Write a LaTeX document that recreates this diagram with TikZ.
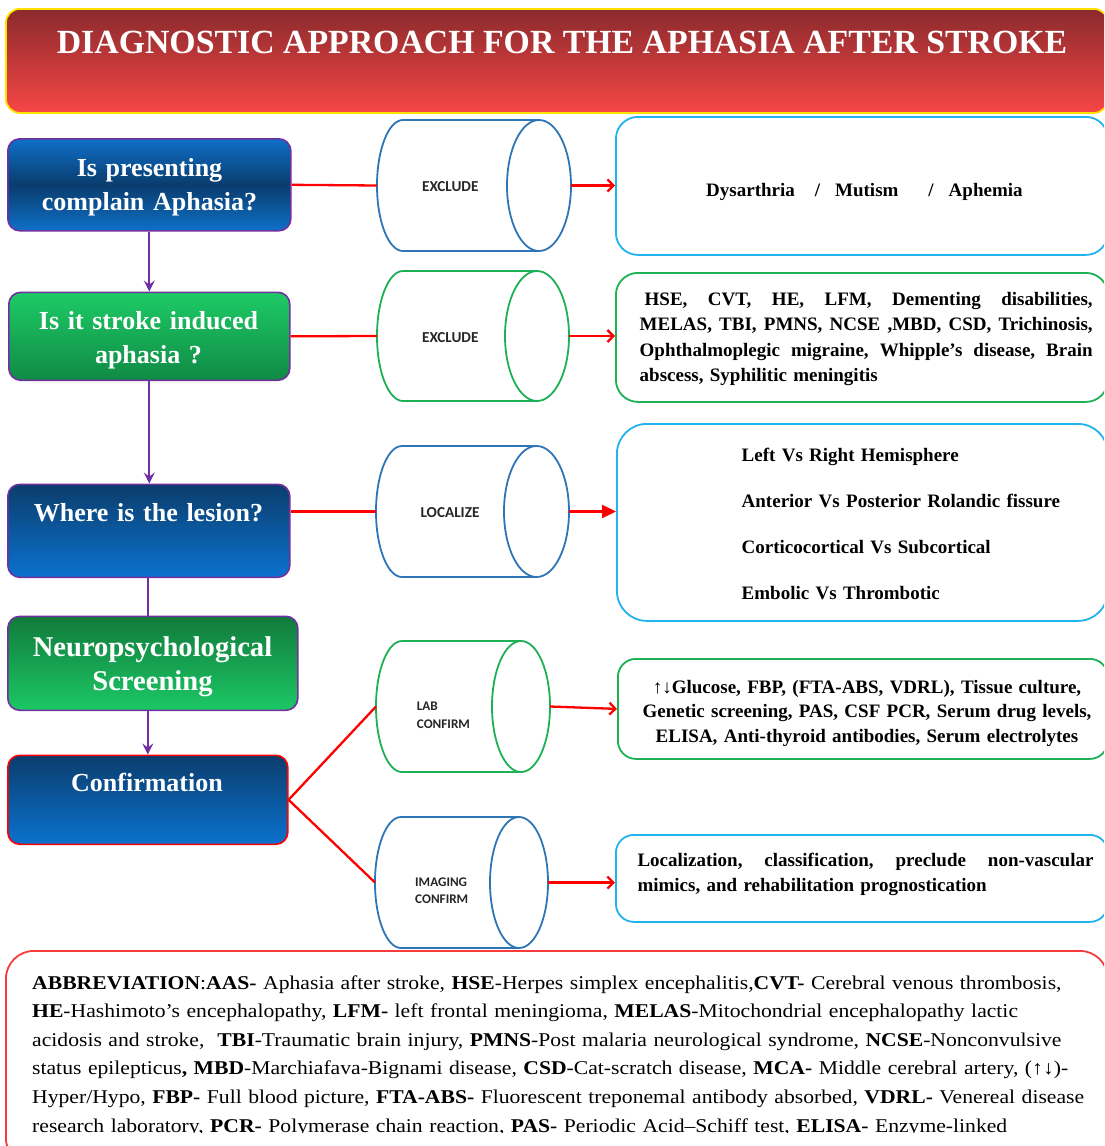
\documentclass[tikz,border=0pt]{standalone}
\usepackage{fontspec}
\setmainfont{Liberation Serif}
\newfontfamily\calib{Carlito}
\newfontfamily\abfont[FakeStretch=1.11]{Liberation Serif}
\usetikzlibrary{arrows.meta}
\definecolor{purp}{HTML}{7030A0}
\definecolor{cylb}{HTML}{2E75B6}
\definecolor{cylg}{HTML}{1DB054}
\definecolor{cyanb}{HTML}{22B2EE}
\definecolor{grnb}{HTML}{1DB054}
\definecolor{abbr}{HTML}{F53B3B}
\definecolor{ttop}{HTML}{8A2A2C}
\definecolor{tbot}{HTML}{F84646}
\definecolor{tbord}{HTML}{FFE100}
\definecolor{blL}{HTML}{0E70C8}
\definecolor{blD}{HTML}{0A3C6E}
\definecolor{blT}{HTML}{0B3D6D}
\definecolor{blB}{HTML}{0B72CE}
\definecolor{gnL}{HTML}{1ECB66}
\definecolor{gnD}{HTML}{0F8A45}
\definecolor{gnT}{HTML}{117A3B}
\definecolor{gnB}{HTML}{1CC865}
\tikzset{
  lbox/.style={draw=purp, line width=1.6pt, rounded corners=12pt, inner sep=0pt, anchor=north west},
  ltext/.style={text=white, font=\bfseries\fontsize{26}{34}\selectfont, inner sep=0pt, align=center, text width=290pt, anchor=base},
  rbox/.style={line width=1.8pt, rounded corners=22pt, inner sep=0pt, anchor=north west},
  rtext/.style={font=\bfseries\fontsize{19}{25.5}\selectfont, inner sep=0pt, text=black},
  cyltext/.style={font=\calib\bfseries\fontsize{15.2}{18}\selectfont, inner sep=0pt, text=black!85},
  cylsmall/.style={font=\calib\bfseries\fontsize{13.2}{17.7}\selectfont, inner sep=0pt, text=black!85, align=left, text width=80pt, anchor=base west},
  redline/.style={draw=red, line width=2.3pt},
  redarrow/.style={redline, -{Straight Barb[length=6pt,width=12pt]}},
  purparrow/.style={draw=purp, line width=2.2pt, -{Stealth[length=11pt,width=11pt,inset=4pt]}},
}
% #1 name, #2 left x, #3 right x, #4 centre y, #5 half height, #6 right ellipse rx, #7 left rx, #8 colour
\newcommand{\mycyl}[8]{%
  \draw[#8, line width=1.8pt] (#3-#6,#4+#5) -- (#2+#7,#4+#5)
     arc[start angle=90, end angle=270, x radius=#7, y radius=#5] -- (#3-#6,#4-#5);
  \draw[#8, line width=1.8pt] (#3-#6,#4) ellipse[x radius=#6, y radius=#5];
  \coordinate (#1w) at (#2,#4);
  \coordinate (#1e) at (#3,#4);
}
\begin{document}
\begin{tikzpicture}[x=1pt,y=1pt]
\useasboundingbox (0,0) rectangle (1104,-1146);
\clip (0,0) rectangle (1104,-1146);

% title
\node[draw=tbord, line width=1.8pt, rounded corners=14pt, top color=ttop, bottom color=tbot,
      minimum width=1102pt, minimum height=104pt, anchor=north west, inner sep=0pt] (title) at (5,-8) {};
\node[text=white, font=\bfseries\fontsize{33.8}{40}\selectfont, anchor=base, inner sep=0pt] (titletext) at (562,-53) {DIAGNOSTIC APPROACH FOR THE APHASIA AFTER STROKE};

% left boxes
\node[lbox, top color=blL, bottom color=blL, middle color=blD, minimum width=283pt, minimum height=92pt] (b1) at (7,-138) {};
\node[ltext] (b1t) at (149.5,-176.5) {Is presenting\\complain Aphasia?};
\node[lbox, top color=gnL, bottom color=gnD, minimum width=281pt, minimum height=88pt] (b2) at (8,-291.5) {};
\node[ltext] (b2t) at (148.5,-329.3) {Is it stroke induced\\aphasia ?};
\node[lbox, top color=blT, bottom color=blB, minimum width=282pt, minimum height=93pt] (b3) at (7,-483.5) {};
\node[ltext] (b3t) at (148.5,-521) {Where is the lesion?};
\node[lbox, top color=gnT, bottom color=gnB, minimum width=290pt, minimum height=94pt] (b4) at (7,-615.5) {};
\node[ltext, font=\bfseries\fontsize{28.6}{34}\selectfont] (b4t) at (152.5,-656) {Neuropsychological\\Screening};
\node[lbox, draw=red, top color=blT, bottom color=blB, minimum width=280pt, minimum height=89pt] (b5) at (7,-754.5) {};
\node[ltext] (b5t) at (147,-791.7) {Confirmation};

% purple connectors
\draw[purparrow] (b1.south) -- (b1.south |- b2.north);
\draw[purparrow] (b2.south) -- (b2.south |- b3.north);
\draw[draw=purp, line width=2.2pt] (b5.north |- b3.south) -- (b5.north |- b4.north);
\draw[purparrow] (b5.north |- b4.south) -- (b5.north);

% cylinders
\mycyl{c1}{377}{571}{-185.5}{65.5}{32}{26}{cylb}
\mycyl{c2}{377}{569}{-336}{65}{32}{26}{cylg}
\mycyl{c3}{376}{569}{-511.5}{65.5}{32.5}{26}{cylb}
\mycyl{c4}{376}{550}{-706.5}{65.5}{29}{26}{cylg}
\mycyl{c5}{375}{548}{-882.5}{65.5}{29}{26}{cylb}
\node[cyltext, anchor=base] (c1t) at (450.3,-191.7) {EXCLUDE};
\node[cyltext, anchor=base] (c2t) at (450.3,-342) {EXCLUDE};
\node[cyltext, anchor=base] (c3t) at (450,-517) {LOCALIZE};
\node[cylsmall] (c4t) at (416.7,-710.7) {LAB\\CONFIRM};
\node[cylsmall] (c5t) at (415,-886) {IMAGING\\CONFIRM};

% right boxes
\node[rbox, draw=cyanb, minimum width=492pt, minimum height=138pt] (r1) at (615,-116) {};
\node[rbox, draw=grnb, minimum width=492pt, minimum height=129pt] (r2) at (615,-272) {};
\node[rbox, draw=cyanb, rounded corners=30pt, minimum width=491pt, minimum height=197pt] (r3) at (616,-423) {};
\node[rbox, draw=grnb, rounded corners=18pt, minimum width=490pt, minimum height=100pt] (r4) at (617,-658) {};
\node[rbox, draw=cyanb, rounded corners=18pt, minimum width=492pt, minimum height=87pt] (r5) at (615,-834) {};

\node[rtext, anchor=base west] (r1t) at (706,-196) {Dysarthria\hspace{20pt}/\hspace{15pt}Mutism\hspace{30pt}/\hspace{15pt}Aphemia};
\node[rtext, anchor=base west, text width=453pt, align=left] (r2t) at (639.5,-305) {%
\makebox[453pt]{\hspace*{5pt}HSE,\hfill CVT,\hfill HE,\hfill LFM,\hfill Dementing\hfill disabilities,}\\
\makebox[453pt]{MELAS,\hfill TBI,\hfill PMNS,\hfill NCSE\hfill ,MBD,\hfill CSD,\hfill Trichinosis,}\\
\makebox[453pt]{Ophthalmoplegic\hfill migraine,\hfill Whipple’s\hfill disease,\hfill Brain}\\
abscess, Syphilitic meningitis};
\node[rtext, anchor=base west, text width=360pt, align=left, font=\bfseries\fontsize{19}{46.3}\selectfont] (r3t) at (741.5,-461) {%
Left Vs Right Hemisphere\\
Anterior Vs Posterior Rolandic fissure\\
Corticocortical Vs Subcortical\\
Embolic Vs Thrombotic};
\node[rtext, anchor=base, text width=470pt, align=center, font=\bfseries\fontsize{19}{24.5}\selectfont] (r4t) at (867,-693) {%
↑↓Glucose, FBP, (FTA-ABS, VDRL), Tissue culture,\\
Genetic screening, PAS, CSF PCR, Serum drug levels,\\
ELISA, Anti-thyroid antibodies, Serum electrolytes};
\node[rtext, anchor=base west, text width=456pt, align=left, font=\bfseries\fontsize{19}{25}\selectfont] (r5t) at (637.3,-866) {%
\makebox[456pt]{Localization,\hfill classification,\hfill preclude\hfill non-vascular}\\
mimics, and rehabilitation prognostication};

% red connectors
\draw[redline] (b1.east) -- (c1w);
\draw[redarrow] (c1e) -- (c1e -| r1.west);
\draw[redline] (b2.east) -- (c2w);
\draw[redarrow] (c2e) -- (c2e -| r2.west);
\draw[redline] (c3w -| b3.east) -- (c3w);
\draw[redline, -{Triangle[length=14pt,width=13pt]}] (c3e) -- (c3e -| r3.west);
\draw[redline] (b5.east) -- (c4w);
\draw[redline] (b5.east) -- (c5w);
\draw[redarrow] (c4e) -- (r4.west);
\draw[redarrow] (c5e) -- (c5e -| r5.west);

% abbreviation box
\node[draw=abbr, line width=1.8pt, rounded corners=28pt, fill=white, minimum width=1102pt, minimum height=215pt, anchor=north west, inner sep=0pt] (ab) at (5,-950) {};
\begin{scope}
\clip (0,-955) rectangle (1104,-1132.8);
\node[anchor=base west, inner sep=0pt, text width=1080pt, align=left, font=\abfont\fontsize{19.5}{28.6}\selectfont] (abt) at (32,-989) {%
\textbf{ABBREVIATION}:\textbf{AAS-} Aphasia after stroke, \textbf{HSE}-Herpes simplex encephalitis,\textbf{CVT-} Cerebral venous thrombosis,\\
\textbf{HE}-Hashimoto’s encephalopathy, \textbf{LFM-} left frontal meningioma, \textbf{MELAS}-Mitochondrial encephalopathy lactic\\
acidosis and stroke,\ \ \textbf{TBI}-Traumatic brain injury, \textbf{PMNS}-Post malaria neurological syndrome, \textbf{NCSE}-Nonconvulsive\\
status epilepticus\textbf{, MBD}-Marchiafava-Bignami disease, \textbf{CSD}-Cat-scratch disease, \textbf{MCA-} Middle cerebral artery, (↑↓)-\\
Hyper/Hypo, \textbf{FBP-} Full blood picture, \textbf{FTA-ABS-} Fluorescent treponemal antibody absorbed, \textbf{VDRL-} Venereal disease\\
research laboratory, \textbf{PCR-} Polymerase chain reaction, \textbf{PAS-} Periodic Acid–Schiff test, \textbf{ELISA-} Enzyme-linked};
\end{scope}
\end{tikzpicture}
\end{document}
